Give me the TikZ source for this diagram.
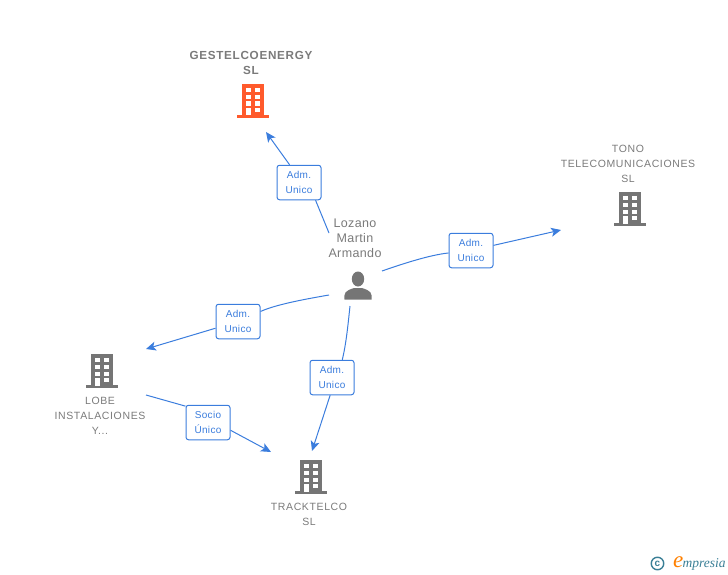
\documentclass[tikz,border=0pt]{standalone}
\usepackage{fontspec}
\usepackage{xcolor}
\setmainfont{Liberation Sans}
\newfontfamily\namefont[LetterSpace=6]{Liberation Sans}
\newfontfamily\personfont[LetterSpace=3]{Liberation Sans}
\newfontfamily\logofont{Liberation Serif}
\usetikzlibrary{arrows.meta,positioning}
\definecolor{linkblue}{HTML}{3B7DDD}
\definecolor{icongray}{HTML}{757575}
\definecolor{textgray}{HTML}{7A7A7A}
\definecolor{firmorange}{HTML}{FF5A2C}
\definecolor{logoteal}{HTML}{3A7F96}
\tikzset{
    role/.style={rectangle, draw=linkblue, fill=white, line width=1pt, rounded corners=2.5pt, minimum width=44pt, minimum height=34.5pt, inner sep=0pt, align=center, text=linkblue, font=\personfont\fontsize{10}{15}\selectfont},
    firm/.style={align=center, text=textgray, inner sep=0pt, font=\namefont\fontsize{10.5}{15}\selectfont},
    wire/.style={draw=linkblue, line width=1pt},
    link/.style={wire, -{Stealth[length=10pt,width=9pt,inset=2.5pt]}},
    pics/building/.style={code={
        \fill [#1] (-11,-17) rectangle (11,15);
        \fill [#1] (-16,14) rectangle (16,17);
        \foreach \col in {-7.3,2.3} {
            \foreach \row in {-13.3,-6.3,0.5} {
                \fill [white] (\col,\row) rectangle ++(5,4.5);
            }
        }
        \fill [white] (-7.3,7) rectangle ++(5,7.5);
        \fill [white] (2.3,7) rectangle ++(5,3.8);
    }},
}
\begin{document}
\begin{tikzpicture}[x=1pt, y=-1pt]
    \useasboundingbox (0,0) rectangle (728,575);

    \pic at (253,101) {building=firmorange};
    \pic at (630,209) {building=icongray};
    \pic at (102,371) {building=icongray};
    \pic at (311,477) {building=icongray};

    \node (gestel) [firm, font=\namefont\bfseries\fontsize{11.7}{15}\selectfont] at (251,63) {GESTELCOENERGY\\SL};
    \node (tono) [firm] at (628,164) {TONO\\TELECOMUNICACIONES\\SL};
    \node (lobe) [firm] at (100,416) {LOBE\\INSTALACIONES\\Y...};
    \node (track) [firm] at (309,514) {TRACKTELCO\\SL};
    \node (lozano) [align=center, text=textgray, inner sep=0pt, font=\personfont\fontsize{12.5}{15}\selectfont] at (355,238.5) {Lozano\\Martin\\Armando};

    % person icon
    \fill [icongray] (358,279) ellipse (6.2 and 7.5);
    \fill [icongray] (344.5,299.5) .. controls (344,292.5) and (345,291) .. (354,288) -- (362,288) .. controls (371,291) and (372,292.5) .. (371.5,299.5) -- cycle;

    \coordinate (toGestel) at (266,132);
    \coordinate (fromUp) at (329,233);
    \coordinate (toTono) at (561,230);
    \coordinate (fromRight) at (382,271);
    \coordinate (toLobe) at (146,349);
    \coordinate (fromLeft) at (329,295);
    \coordinate (toTrack) at (312,451);
    \coordinate (fromDown) at (350,306);
    \coordinate (fromLobe) at (146,395);
    \coordinate (toTrackB) at (271,452);

    \node (admA) [role] at (299,182.5) {Adm.\\Unico};
    \node (admB) [role] at (471,250.5) {Adm.\\Unico};
    \node (admC) [role] at (238,321.5) {Adm.\\Unico};
    \node (admD) [role] at (332,377.5) {Adm.\\Unico};
    \node (socio) [role] at (208,422.5) {Socio\\Único};

    \draw [link] (admA.118) -- (toGestel);
    \draw [wire] (fromUp) -- (admA.-47);
    \draw [link] (admB) -- (toTono);
    \draw [wire] (fromRight) .. controls (405,263) and (430,255) .. (admB);
    \draw [link] (admC) -- (toLobe);
    \draw [wire] (fromLeft) .. controls (300,300) and (275,305) .. (admC);
    \draw [link] (admD.-96) -- (toTrack);
    \draw [wire] (fromDown) .. controls (348,325) and (346,345) .. (admD.60);
    \draw [link] (socio.-19) -- (toTrackB);
    \draw [wire] (fromLobe) -- (socio.144);

    % logo
    \node (copyr) [circle, draw=logoteal, line width=1.4pt, minimum size=12.5pt, inner sep=0pt, text=logoteal, font=\bfseries\fontsize{10}{10}\selectfont] at (657.5,563.5) {c};
    \node (brand) [anchor=west, inner sep=0pt, text=logoteal, font=\logofont\itshape\fontsize{13.5}{13.5}\selectfont] at (682.5,564.5) {mpresia};
    \node (brandE) [anchor=east, inner sep=0pt, text=orange, font=\logofont\itshape\fontsize{23}{23}\selectfont] at (683.5,562.5) {e};
\end{tikzpicture}
\end{document}
